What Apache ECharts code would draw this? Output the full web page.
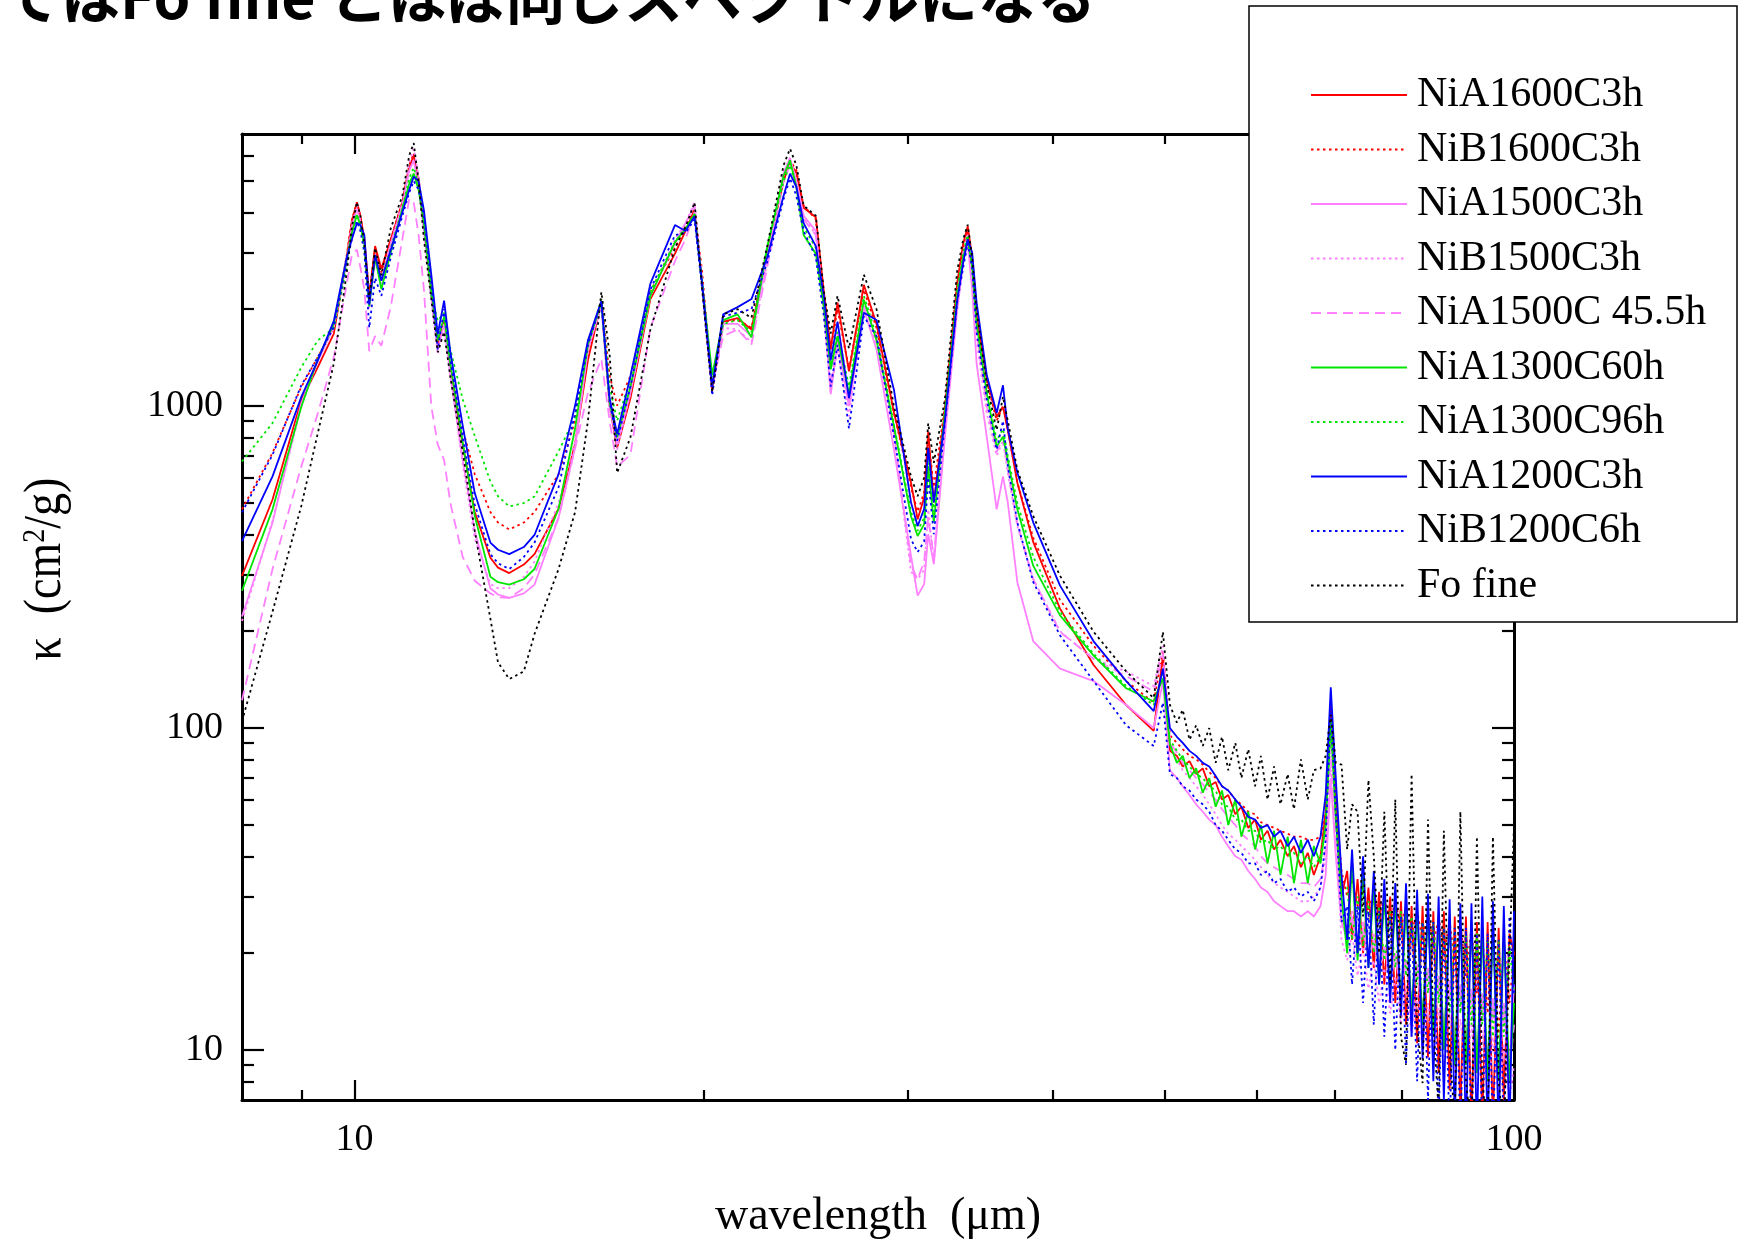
<!DOCTYPE html>
<html><head><meta charset="utf-8">
<script src="https://cdn.jsdelivr.net/npm/echarts@6/dist/echarts.min.js"></script>
<style>html,body{margin:0;padding:0;background:#fff}#c{width:1745px;height:1245px}</style>
</head><body><div id="c"></div>
<script>
// wavelength grid (µm)
const wavelength = [8.0,8.5,9.0,9.3,9.6,9.85,9.95,10.05,10.12,10.2,10.3,10.42,10.55,10.75,11.0,11.15,11.25,11.36,11.48,11.65,11.8,11.95,12.1,12.4,12.7,13.1,13.3,13.6,14.0,14.3,15.0,15.5,15.9,16.33,16.6,16.85,17.3,18.0,18.9,19.3,19.65,19.95,20.35,20.8,21.4,22.0,22.7,23.45,23.75,24.05,24.4,25.0,25.4,25.75,26.1,26.7,27.5,28.2,29.2,30.2,30.6,31.0,31.25,31.6,32.3,33.1,33.5,33.8,34.1,34.4,35.1,35.8,36.25,36.6,37.3,38.5,40.6,43.4,46.3,48.9,49.8,
50.5,51.2,51.8,52.5,53.2,53.9,54.6,55.3,56.0,56.7,57.5,58.2,59.0,59.8,60.5,61.3,62.1,62.9,63.8,64.6,65.5,66.4,67.2,68.1,68.8,69.5,70.2,
71.0,71.8,72.5,73.3,74.1,74.9,75.7,76.5,77.3,78.2,79.0,79.9,80.7,81.6,82.5,83.4,84.3,85.2,86.1,87.0,88.0,88.9,89.9,90.9,91.9,92.9,93.9,94.9,95.9,97.0,98.0,99.1,100.0];

const NiA1600C3h = [297,513,1043,1321,1680,2900,3770,4280,3900,3300,2200,3140,2670,3300,4300,5500,6000,5000,3570,2260,1540,1840,1290,760,469,338,315,303,322,347,480,763,1390,2100,1000,744,1058,2150,2975,3500,4070,2400,1120,1830,1875,1730,3000,5000,5710,5300,4130,3860,2270,1510,2095,1282,2380,1800,952,578,445,520,833,502,972,2400,3200,3620,2900,1900,1230,927,995,843,578,378,235,157,118,98,168,
85,82,76,79,72,75,66,68,60,62,54,57,49,52,45,48,42,45,40,43,37,41,35,40,55,118,62,
30,36,22,34,20,32,18,31,16,30,14,29,12,28,10.5,28,9.5,27,8.5,27,7.5,26,6.5,26,6,25,6,25,6,24,7,23,20];

const NiB1600C3h = [478,716,1147,1420,1755,2950,3780,4300,3900,3300,2200,3100,2600,3300,4300,5600,6100,5100,3700,2300,1560,1850,1350,850,615,469,435,414,435,469,615,900,1500,2150,1246,1004,1240,2270,3100,3600,4100,2600,1150,1830,1850,1750,3000,5100,5800,5400,4200,3800,2100,1500,2000,1300,2300,1750,950,560,470,540,800,560,1000,2400,3100,3500,2800,2000,1200,900,1000,850,580,390,250,180,140,120,175,
95,90,86,82,80,77,73,70,66,64,60,58,55,54,51,50,49,48,47,46,46,45,45,46,55,110,60,
36,30,34,28,32,27,31,26,30,25,29,24,28,23,27,22,27,21,26,20,25,19,25,17,24,15,23,13,22,11,22,14,20];

const NiA1500C3h = [222,435,1021,1380,1760,2800,3600,4100,3750,3200,2100,2900,2450,3200,4200,5400,5800,4800,3500,2200,1500,1800,1250,680,409,272,260,254,262,279,450,744,1500,2050,1000,760,1100,2200,3200,3700,4200,2400,1150,1800,1800,1650,2900,5300,5900,5000,3900,3500,2000,1090,1600,1000,2000,1500,732,343,258,280,400,323,800,1980,2800,3200,2300,1357,804,478,605,502,284,186,153,140,118,100,140,
74,70,66,62,58,55,52,50,46,43,40,39,36,34,32,31,29,28,27,27,26,27,26,28,35,70,40,
25,22,26,20,24,19,22,17.5,21,16.5,20,15.5,19,14.5,18.5,13.5,18,12.5,17,12,16.5,11,16,10.5,15.5,10,15,9.5,14.5,9,14,9,16];

const NiB1500C3h = [215,440,1000,1380,1760,2850,3700,4200,3800,3200,2000,2800,2400,3200,4300,5700,6300,5200,3600,2150,1450,1750,1250,660,388,280,272,272,295,329,500,780,1500,2100,1000,730,1100,2200,3300,3700,4300,2400,1100,1750,1730,1580,2800,5300,5900,5000,3900,3400,2000,1100,1500,930,2100,1550,800,306,290,310,478,330,820,2100,2900,3300,2600,1600,950,700,780,620,424,290,200,164,150,135,180,
90,80,74,70,66,62,58,54,50,47,45,43,41,39,37,35,33,32,31,30,29,29,30,32,40,90,45,
22,19,23,17,21,15.5,19,14,18,13,17,12,16,11,15,10,14,9.5,13.5,9,13,8.5,12.5,8,12,7.5,11.5,7,11,7,10.5,7,9];

const NiA1500C455h = [122,312,650,950,1420,2400,2950,3060,2700,2300,1480,1650,1540,2040,3300,4400,4300,3400,2310,1000,760,680,500,340,287,262,255,254,272,300,450,740,1100,1400,900,649,706,1750,2820,3300,4000,2400,1150,1650,1730,1554,2700,5000,5600,4800,3800,3400,2100,1150,1700,1000,2050,1650,820,320,290,330,450,340,850,2200,3000,3400,2700,1700,1000,720,800,640,430,290,199,164,145,130,170,
90,84,78,74,70,67,63,60,56,53,50,47,45,43,40,38,37,36,35,34,33,33,32,34,42,80,45,
26,23,27,21,25,19,23,17,21,16,20,15,19,14,18,13,17,12,16,11,15.5,10.5,15,10,14.5,9.5,14,9,13.5,8.5,13,8.5,12];

const NiA1300C60h = [267,478,995,1400,1800,2850,3450,3920,3650,3200,2040,2900,2310,3000,4100,4900,5280,4700,3700,2300,1600,1900,1350,770,456,295,284,279,290,312,480,852,1554,2100,1030,800,1150,2200,3230,3550,3950,2400,1250,1850,1927,1636,3100,5200,5800,4800,3400,2975,2030,1300,1650,1090,2140,1600,863,455,395,430,650,435,950,2200,2900,3300,2700,1800,1100,749,804,680,478,319,224,168,133,121,143,
89,78,82,70,75,63,70,57,64,50,60,46,55,42,50,38,48,35,46,33,45,33,43,38,50,107,52,
30,20,38,19,35,18,32,16,30,15,29,14,28,13,27,12,27,11,26,10,26,9,25,9,25,8.5,24,8,24,8,23,8,14];

const NiA1300C96h = [673,886,1320,1600,1750,2700,3450,3950,3600,3100,2100,2950,2450,3100,4100,5100,5500,4900,3800,2200,1840,1950,1500,1050,808,583,525,488,500,524,724,925,1554,2150,1150,900,1212,2270,3230,3600,3950,2400,1200,1800,1850,1700,3140,5000,5600,4800,3600,3100,2100,1350,1700,1150,2200,1650,870,470,410,450,700,470,950,2300,3000,3400,2700,1800,1150,780,850,700,500,340,230,170,135,118,150,
92,85,80,76,72,70,66,64,58,57,52,52,48,48,44,45,42,43,40,41,38,40,37,40,50,100,55,
32,32,22,30,21,29,20,28,19,27,18,27,17,26,16,25,15,25,14,24,13,24,13,23,12,23,12,22,11,22,11,21,15];

const NiA1200C3h = [381,605,1068,1387,1840,2900,3300,3700,3650,3400,2065,2950,2450,3060,4000,4700,5160,5000,4060,2560,1670,2125,1470,870,537,377,358,347,365,398,615,1004,1600,2120,1058,820,1240,2400,3650,3500,3890,2400,1150,1927,2030,2150,2900,4500,5270,4800,3700,3140,2200,1390,1830,1058,1950,1850,1120,502,424,480,742,502,900,2125,2800,3300,3000,2100,1250,952,1161,850,621,435,277,186,140,113,153,
100,94,90,85,82,78,76,71,66,64,60,57,53,52,49,50,46,48,43,46,41,45,40,46,62,134,70,
35,22,42,20,40,18,36,16,34,14,33,12.8,33,11,31.5,9.4,30.6,8,30,7,29.4,6,28.6,5.5,28.6,5.5,30,5.5,29,5.5,28,5.5,27];

const NiB1200C6h = [468,706,1160,1420,1760,2800,3300,3750,3500,3000,1750,2500,2200,2900,3900,4600,5000,4700,3900,2400,1500,2000,1400,800,495,347,325,312,340,377,560,950,1550,2100,1030,780,1150,2300,3400,3450,3800,2300,1080,1900,1950,2000,2800,4400,5100,4500,3500,2900,1900,1150,1550,852,1900,1650,804,386,352,380,600,400,880,2100,2700,3200,2700,1700,1050,732,900,650,435,284,194,140,102,88,120,
72,70,66,64,60,58,55,50,48,45,42,41,38,38,35,36,33,34,31,32,30,31,29,32,45,115,55,
25,28,16,28,14,27,12,27,11,26,10,26,9,25,8,25,7,25,6,24,5.5,24,5.5,24,5.5,23,5.5,23,5.5,22,5.5,26,15];

const FoFine = [105,230,490,825,1357,2600,3600,4300,3900,3200,2150,3100,2550,3570,4500,6000,6560,5000,3300,2150,1470,1700,1230,720,409,219,160,142,150,196,312,469,900,2260,1450,620,800,1730,3100,3600,4290,2300,1105,1927,2000,1880,3140,5600,6300,5600,4200,3900,2270,1680,2200,1510,2560,2000,995,605,525,600,884,667,1050,2630,3300,3660,2900,1980,1178,843,1070,900,634,455,297,199,150,124,199,
118,104,114,92,102,88,100,78,94,74,90,70,86,66,82,60,76,58,72,56,80,60,74,75,82,110,78,
77,42,58,55,26,69,40,20,55,16,60,11,9,72,12,7.9,52,12,6.5,48,10,6,55,8,5.5,46,8,5.5,46,8,5.5,20,50];

const seriesNames = ['NiA1600C3h','NiB1600C3h','NiA1500C3h','NiB1500C3h','NiA1500C 45.5h','NiA1300C60h','NiA1300C96h','NiA1200C3h','NiB1200C6h','Fo fine'];
const seriesValues = [NiA1600C3h,NiB1600C3h,NiA1500C3h,NiB1500C3h,NiA1500C455h,NiA1300C60h,NiA1300C96h,NiA1200C3h,NiB1200C6h,FoFine];
const seriesColors = ['#ff0000','#ff0000','#ff80ff','#ff80ff','#ff80ff','#00e600','#00e600','#0000ff','#0000ff','#000000'];
const DOT = [2.5,3.5], DASH = [10,6];
const seriesDash = ['solid',DOT,'solid',DOT,DASH,'solid',DOT,'solid',DOT,DOT];

const xTickLabels = [10,100];
const xMinorTicks = [9,20,30,40,50,60,70,80,90];
const yTickLabels = [10,100,1000];
const yMinorTicks = [8,9,20,30,40,50,60,70,80,90,200,300,400,500,600,700,800,900,2000,3000,4000,5000,6000];

const X_MIN = 8, X_MAX = 100, Y_MIN = 7, Y_MAX = 7000;
const serif = 'Liberation Serif';
const plain = v => String(v);

function xAx(pos, minor, withLabels){
  return {
    type:'log', logBase:10, min:X_MIN, max:X_MAX, position:pos,
    axisLine:{show:!minor, onZero:false, lineStyle:{color:'#000', width:3}},
    axisTick:{show:true, inside:true, length: minor?10:20, lineStyle:{color:'#000', width:2.2},
      customValues: minor ? xMinorTicks : xTickLabels},
    axisLabel:{show:withLabels, customValues:xTickLabels, formatter:plain, color:'#000', fontFamily:serif, fontSize:38, margin:21},
    splitLine:{show:false}, minorTick:{show:false},
    name: withLabels ? 'wavelength  (\u03bcm)' : '', nameLocation:'middle', nameGap:94,
    nameTextStyle:{color:'#000', fontFamily:serif, fontSize:46}
  };
}
function yAx(pos, minor, withLabels){
  return {
    type:'log', logBase:10, min:Y_MIN, max:Y_MAX, position:pos,
    axisLine:{show:!minor, onZero:false, lineStyle:{color:'#000', width:3}},
    axisTick:{show:true, inside:true, length: minor?12:22, lineStyle:{color:'#000', width:2.2},
      customValues: minor ? yMinorTicks : yTickLabels},
    axisLabel:{show:withLabels, customValues:yTickLabels, formatter:plain, color:'#000', fontFamily:serif, fontSize:38, margin:19},
    splitLine:{show:false}, minorTick:{show:false}
  };
}

const series = seriesNames.map((name,k)=>({
  name, type:'line', xAxisIndex:0, yAxisIndex:0,
  data: wavelength.map((w,i)=>[w, seriesValues[k][i]]),
  showSymbol:false, symbol:'none', clip:true, smooth:false,
  lineStyle:{color:seriesColors[k], width:1.8, type:seriesDash[k]},
  itemStyle:{color:seriesColors[k]},
  emphasis:{disabled:true}, animation:false, z:2
}));

const chart = echarts.init(document.getElementById('c'), null, {renderer:'canvas'});
chart.setOption({
  backgroundColor:'#fff',
  animation:false,
  title:{text:'ではFo fine とほぼ同じスペクトルになる', left:2, top:-33, padding:0,
    textStyle:{fontSize:59, fontWeight:'bold', fontFamily:'Noto Sans CJK JP', color:'#000'}},
  grid:{left:242, top:134, width:1272, height:971, containLabel:false},
  xAxis:[xAx('bottom',false,true), xAx('bottom',true,false), xAx('top',false,false), xAx('top',true,false)],
  yAxis:[yAx('left',false,true), yAx('left',true,false), yAx('right',false,false), yAx('right',true,false)],
  legend:{data:seriesNames, orient:'vertical', left:1310, top:73, itemWidth:96, itemHeight:14, itemGap:10.5,
    padding:0, selectedMode:false, z:101, itemStyle:{opacity:0},
    textStyle:{fontFamily:serif, fontSize:42, color:'#000', lineHeight:44, padding:[0,0,0,5]}},
  graphic:{elements:[
    {type:'rect', z:100, shape:{x:1249, y:6, width:488, height:616}, style:{fill:'#fff', stroke:'#000', lineWidth:1.5}},
    {type:'text', z:100, x:46, y:569, rotation:Math.PI/2, scaleY:1.15,
      style:{text:'\u03ba  (cm{s|2}/g)', fontFamily:serif, fontSize:46, fill:'#000', align:'center', verticalAlign:'middle',
        rich:{s:{fontFamily:serif, fontSize:28, verticalAlign:'top', lineHeight:28, fill:'#000'}}}}
  ]},
  series
});
</script></body></html>
